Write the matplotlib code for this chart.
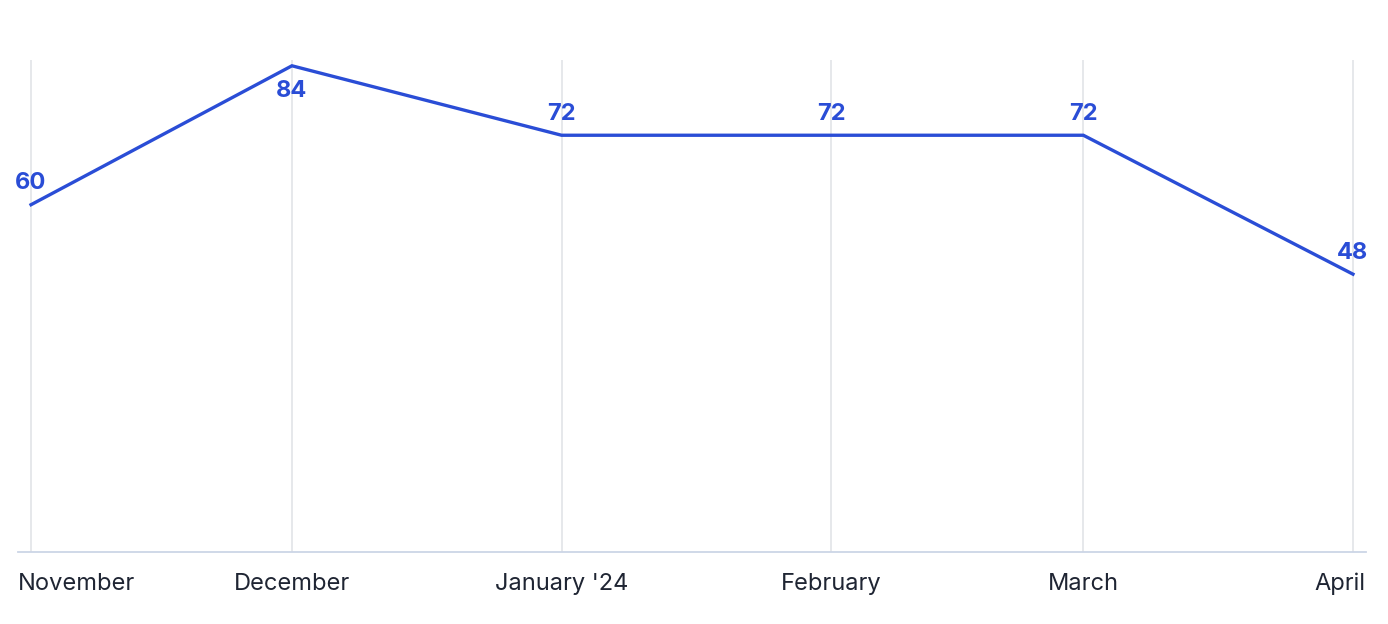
import datetime as dt
import matplotlib.pyplot as plt
import matplotlib.dates as mdates
from matplotlib.transforms import ScaledTranslation

plt.rcParams['font.family'] = ['Inter', 'DejaVu Sans']

# monthly values
months = [dt.datetime(2023, 11, 1), dt.datetime(2023, 12, 1), dt.datetime(2024, 1, 1),
          dt.datetime(2024, 2, 1), dt.datetime(2024, 3, 1), dt.datetime(2024, 4, 1)]
month_labels = ['November', 'December', "January '24", 'February', 'March', 'April']
values = [60, 84, 72, 72, 72, 48]

blue = '#2a4dd6'

fig = plt.figure(figsize=(13.88, 6.24), dpi=100)
ax = fig.add_axes([18 / 1388, 72 / 624, 1348 / 1388, 492 / 624])

ax.plot(months, values, color=blue, linewidth=2.4, solid_joinstyle='miter', zorder=3)

# data labels, the top point gets its label below
for d, v in zip(months, values):
    if v == max(values):
        ax.annotate(str(v), (d, v), xytext=(0, -18), textcoords='offset points',
                    ha='center', va='center', color=blue, fontsize=17, fontweight='bold')
    else:
        ax.annotate(str(v), (d, v), xytext=(0, 15.5), textcoords='offset points',
                    ha='center', va='center', color=blue, fontsize=17, fontweight='bold')

ax.set_ylim(0, 85)
pad = dt.timedelta(hours=36)
ax.set_xlim(months[0] - pad, months[-1] + pad)

ax.set_xticks(months)
ax.set_xticklabels(month_labels, fontsize=17, color='#1f2533')
ax.tick_params(axis='x', length=0, pad=15)
ax.set_yticks([])
ax.grid(axis='x', color='#e2e4e8', linewidth=1.2)
ax.set_axisbelow(True)

labels = ax.get_xticklabels()
labels[0].set_horizontalalignment('left')
labels[0].set_transform(labels[0].get_transform() + ScaledTranslation(-13 / 100, 0, fig.dpi_scale_trans))
labels[-1].set_horizontalalignment('right')
labels[-1].set_transform(labels[-1].get_transform() + ScaledTranslation(12 / 100, 0, fig.dpi_scale_trans))

for s in ['top', 'left', 'right']:
    ax.spines[s].set_visible(False)
ax.spines['bottom'].set_color('#ccd5e6')
ax.spines['bottom'].set_linewidth(1.3)

fig.savefig('out.png', dpi=100)
